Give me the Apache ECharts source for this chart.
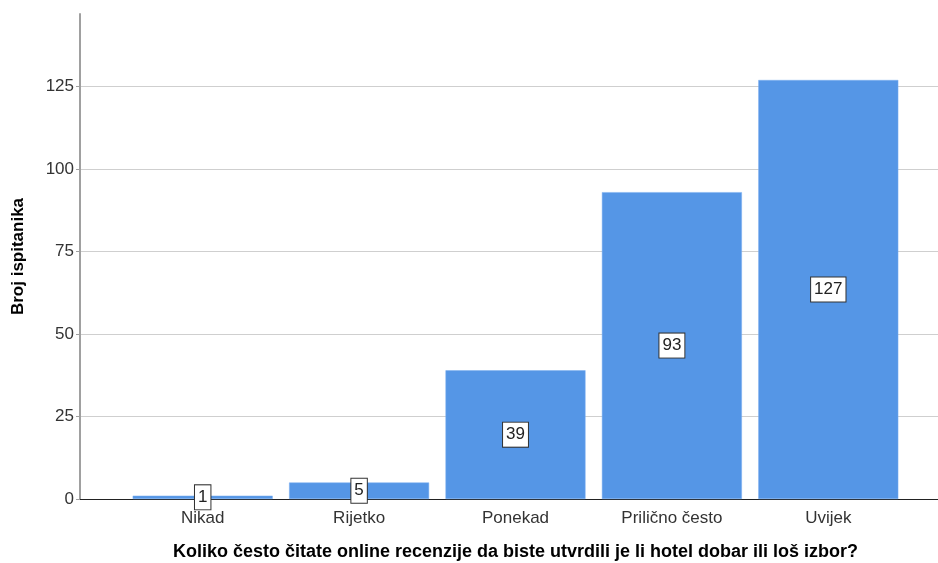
<!DOCTYPE html>
<html>
<head>
<meta charset="utf-8">
<script src="https://cdn.jsdelivr.net/npm/echarts@6/dist/echarts.min.js"></script>
<style>html,body{margin:0;padding:0;background:#fff}#c{width:938px;height:563px}</style>
</head>
<body>
<div id="c"></div>
<script>
const categories = ['Nikad', 'Rijetko', 'Ponekad', 'Prilično često', 'Uvijek'];
const counts = [1, 5, 39, 93, 127];
const yMin = 0, yMax = 147, yStep = 25;
const xTitle = 'Koliko često čitate online recenzije da biste utvrdili je li hotel dobar ili loš izbor?';
const yTitle = 'Broj ispitanika';

const font = '"Liberation Sans", Arial, sans-serif';
const chart = echarts.init(document.getElementById('c'), null, {renderer: 'canvas'});
chart.setOption({
  animation: false,
  textStyle: {fontFamily: font},
  grid: [
    {left: 80, right: 0, top: 14, bottom: 64, containLabel: false, outerBoundsMode: 'none'},
    {left: 124.5, width: 782, top: 14, bottom: 64, containLabel: false, outerBoundsMode: 'none'}
  ],
  xAxis: [
    {type: 'value', gridIndex: 0, min: 0, max: 1, show: true,
     axisLine: {show: true, onZero: false, lineStyle: {color: '#222', width: 1}},
     axisTick: {show: false}, axisLabel: {show: false}, splitLine: {show: false}},
    {type: 'category', gridIndex: 1, data: categories,
     axisLine: {show: false}, axisTick: {show: false},
     axisLabel: {color: '#333', fontSize: 17, margin: 11, fontFamily: font},
     name: xTitle, nameLocation: 'middle', nameGap: 44,
     nameTextStyle: {fontWeight: 'bold', fontSize: 18, color: '#000', fontFamily: font}}
  ],
  yAxis: [
    {type: 'value', gridIndex: 0, min: yMin, max: yMax, interval: yStep,
     axisLine: {show: true, lineStyle: {color: '#a0a0a0', width: 2}},
     axisTick: {show: true, length: 4, lineStyle: {color: '#a0a0a0'}},
     axisLabel: {color: '#333', fontSize: 17, margin: 6, fontFamily: font,
                 showMaxLabel: false},
     splitLine: {show: true, showMaxLine: false, lineStyle: {color: '#cfcfcf', width: 1}},
     name: yTitle, nameLocation: 'middle', nameGap: 53,
     nameTextStyle: {fontWeight: 'bold', fontSize: 17, color: '#000', fontFamily: font}},
    {type: 'value', gridIndex: 1, min: yMin, max: yMax, interval: yStep, show: false}
  ],
  series: [{
    type: 'bar', xAxisIndex: 1, yAxisIndex: 1, data: counts, barWidth: 140,
    itemStyle: {color: '#5596e6', borderColor: '#7aaef0', borderWidth: 0.5},
    label: {show: true, position: 'inside', color: '#222', fontSize: 17, fontFamily: font,
            backgroundColor: '#fff', borderColor: '#333', borderWidth: 1,
            padding: [4, 3, 3, 3]}
  }]
});
</script>
</body>
</html>
